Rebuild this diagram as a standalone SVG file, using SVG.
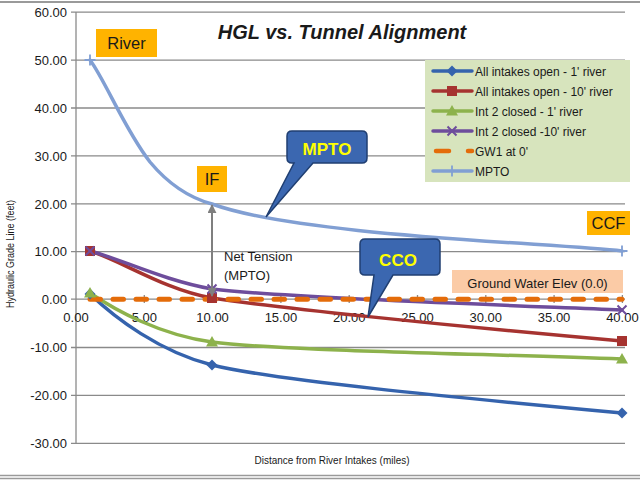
<svg xmlns="http://www.w3.org/2000/svg" width="640" height="480" viewBox="0 0 640 480">
<style>
text{font-family:"Liberation Sans",Arial,sans-serif;fill:#1a1a1a}
.grid{stroke:#8a8a8a;stroke-width:1.3;fill:none}
.yl{font-size:13px;text-anchor:end}
.xl{font-size:13px;text-anchor:middle}
.s{fill:none;stroke-width:3.5;stroke-linecap:round}
.blue{stroke:#3563AD}
.red{stroke:#A63330}
.green{stroke:#8DB24C}
.purple{stroke:#6E4D9C}
.mpto{stroke:#819FD3}
.gw{fill:none;stroke:#E46C0A;stroke-width:5;stroke-linecap:round;stroke-dasharray:10.5 12.5}
.lg{font-size:12px}
.tag{fill:#FFB300}
.tagt{font-size:16.5px;text-anchor:middle}
.call{fill:#3B67B0;stroke:#203F72;stroke-width:1.5}
.callt{font-size:17px;font-weight:bold;fill:#FFFF00;text-anchor:middle}
</style>
<defs>
<marker id="ah" viewBox="0 0 10 10" refX="9" refY="5" markerWidth="4.5" markerHeight="4.5" orient="auto-start-reverse" markerUnits="strokeWidth">
<path d="M0,0 L10,5 L0,10 z" fill="#7F7F7F"/>
</marker>
<path id="dia" d="M0,-5.5 L5.5,0 L0,5.5 L-5.5,0 z" fill="#3563AD"/>
<rect id="sq" x="-5" y="-5" width="10" height="10" fill="#A63330"/>
<path id="tri" d="M0,-6 L6,4.5 L-6,4.5 z" fill="#8DB24C"/>
<path id="xm" d="M-4.5,-4.5 L4.5,4.5 M-4.5,4.5 L4.5,-4.5" stroke="#6E4D9C" stroke-width="2" fill="none"/>
<path id="pl" d="M-5.5,0 H5.5 M0,-5.5 V5.5" stroke="#819FD3" stroke-width="1.8" fill="none"/>
</defs>
<rect width="640" height="480" fill="#ffffff"/>
<line x1="0" y1="2" x2="640" y2="2" stroke="#9a9a9a" stroke-width="2"/>
<line x1="0" y1="475.5" x2="640" y2="475.5" stroke="#9a9a9a" stroke-width="1.5"/>
<line x1="0" y1="478.5" x2="640" y2="478.5" stroke="#9a9a9a" stroke-width="1.5"/>

<g id="axes">
<g class="grid">
<path d="M71,12.2H625 M71,60.1H625 M71,108H625 M71,155.9H625 M71,203.8H625 M71,251.7H625 M71,347.5H625 M71,395.4H625 M71,443.3H625"/>
<path d="M71,299.2H625"/>
<path d="M76,12V443.3"/>
<path d="M144.3,295V303 M212.6,295V303 M280.9,295V303 M349.2,295V303 M417.5,295V303 M485.8,295V303 M554.1,295V303 M622.4,295V303"/>
</g>
<g class="yl">
<text x="67" y="17">60.00</text>
<text x="67" y="65">50.00</text>
<text x="67" y="113">40.00</text>
<text x="67" y="161">30.00</text>
<text x="67" y="209">20.00</text>
<text x="67" y="256">10.00</text>
<text x="67" y="304">0.00</text>
<text x="67" y="352">-10.00</text>
<text x="67" y="400">-20.00</text>
<text x="67" y="448">-30.00</text>
</g>
<g class="xl">
<text x="76" y="322">0.00</text>
<text x="144.3" y="322">5.00</text>
<text x="212.6" y="322">10.00</text>
<text x="280.9" y="322">15.00</text>
<text x="349.2" y="322">20.00</text>
<text x="417.5" y="322">25.00</text>
<text x="485.8" y="322">30.00</text>
<text x="554.1" y="322">35.00</text>
<text x="622.4" y="322">40.00</text>
</g>
<text x="11" y="254" transform="rotate(-90 11 254)" font-size="10" text-anchor="middle" dominant-baseline="middle" textLength="108" lengthAdjust="spacingAndGlyphs">Hydraulic Grade Line (feet)</text>
<text x="332" y="464" font-size="10" text-anchor="middle" textLength="155" lengthAdjust="spacingAndGlyphs">Distance from River Intakes (miles)</text>
</g>

<text id="title" x="342" y="39" font-size="20" font-weight="bold" font-style="italic" text-anchor="middle" fill="#000">HGL vs. Tunnel Alignment</text>

<g id="series">
<path class="s blue" d="M90,294 C115,318 160,352 212,365 C272,380 450,397 622,413"/>
<path class="s green" d="M90,293 C115,310 160,335 212,342 C272,350 450,353 622,359"/>
<path class="s red" d="M90,251 C120,260 165,290 212,298 C262,306 450,326 622,341"/>
<path class="s purple" d="M90,251 C118,258 165,281 212,289 C280,297 450,303 622,310"/>
<line class="gw" x1="90" y1="299.2" x2="622" y2="299.2"/>
<path class="s mpto" d="M90,60 C105,80 125,130 150,162 C170,186 190,198 212,204 C300,236 553,243 622,251"/>
<use href="#dia" x="90" y="294"/><use href="#dia" x="212" y="365"/><use href="#dia" x="622" y="413"/>
<use href="#sq" x="90" y="251"/><use href="#sq" x="212" y="298"/><use href="#sq" x="622" y="341"/>
<use href="#tri" x="90" y="293"/><use href="#tri" x="212" y="342"/><use href="#tri" x="622" y="359"/>
<use href="#xm" x="90" y="251"/><use href="#xm" x="212" y="289"/><use href="#xm" x="622" y="310"/>
<use href="#pl" x="90" y="60"/><use href="#pl" x="622" y="251"/>
</g>

<g id="net-tension">
<line x1="212" y1="205" x2="212" y2="296" stroke="#7F7F7F" stroke-width="2" marker-start="url(#ah)" marker-end="url(#ah)"/>
<text x="224" y="261" font-size="13" fill="#262626">Net Tension</text>
<text x="224" y="280" font-size="13" fill="#262626">(MPTO)</text>
</g>

<g id="legend">
<rect x="425" y="60" width="205" height="122" fill="#D7E4BD"/>
<line x1="433" y1="71" x2="472" y2="71" class="s blue" stroke-width="2.5"/><use href="#dia" x="452" y="71"/>
<text class="lg" x="475" y="75.5">All intakes open - 1' river</text>
<line x1="433" y1="91" x2="472" y2="91" class="s red" stroke-width="2.5"/><use href="#sq" x="452" y="91"/>
<text class="lg" x="475" y="95.5">All intakes open - 10' river</text>
<line x1="433" y1="111" x2="472" y2="111" class="s green" stroke-width="2.5"/><use href="#tri" x="452" y="111"/>
<text class="lg" x="475" y="115.5">Int 2 closed - 1' river</text>
<line x1="433" y1="131" x2="472" y2="131" class="s purple" stroke-width="2.5"/><use href="#xm" x="452" y="131"/>
<text class="lg" x="475" y="135.5">Int 2 closed -10' river</text>
<path d="M436,151 H449 M468,151 H472" fill="none" stroke="#E46C0A" stroke-width="4.5" stroke-linecap="round"/>
<text class="lg" x="475" y="155.5">GW1 at 0'</text>
<line x1="433" y1="171" x2="472" y2="171" class="s mpto" stroke-width="2.5"/><use href="#pl" x="452" y="171"/>
<text class="lg" x="475" y="175.5">MPTO</text>
</g>

<g id="river"><rect class="tag" x="96" y="29" width="61" height="28"/><text class="tagt" x="126.5" y="49">River</text></g>
<g id="if"><rect class="tag" x="197" y="166" width="30" height="26"/><text class="tagt" x="212" y="185">IF</text></g>
<g id="ccf"><rect class="tag" x="587" y="211" width="43" height="24"/><text class="tagt" x="608.5" y="229" font-size="15">CCF</text></g>
<g id="gwe"><rect x="452" y="270" width="171" height="23" fill="#FBCBA6"/><text x="537.5" y="288" font-size="13" text-anchor="middle" fill="#262626">Ground Water Elev (0.0)</text></g>

<g id="mpto-callout">
<path class="call" d="M292,131 H362 Q367,131 367,136 V158 Q367,163 362,163 H313 L266,217 L294,163 H292 Q287,163 287,158 V136 Q287,131 292,131 Z"/>
<text class="callt" x="327" y="155">MPTO</text>
</g>
<g id="cco-callout">
<path class="call" d="M365,239 H435 Q440,239 440,244 V270 Q440,275 435,275 H393 L368,317 L374,275 H365 Q360,275 360,270 V244 Q360,239 365,239 Z"/>
<text class="callt" x="398" y="266">CCO</text>
</g>
</svg>
